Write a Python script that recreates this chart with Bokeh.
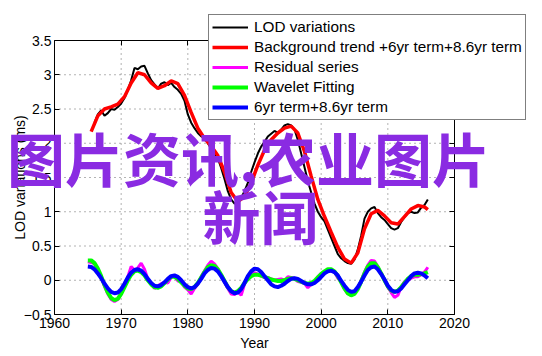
import math
from bokeh.plotting import figure
from bokeh.models import (Range1d, LinearAxis, FixedTicker, Legend, LegendItem,
                          Label, CustomJSTickFormatter)
from bokeh.embed import file_html
from bokeh.resources import INLINE

# ---------------- data ----------------
lod_years = [1966.0 + 0.5 * i for i in range(101)]
lod_values = [
    2.30, 2.42, 2.48, 2.40, 2.44, 2.50, 2.49, 2.53, 2.58, 2.66,
    2.78, 2.92, 3.10, 3.08, 3.12, 3.13, 3.02, 2.92, 2.86, 2.80,
    2.87, 2.89, 2.85, 2.88, 2.82, 2.78, 2.72, 2.62, 2.42, 2.30,
    2.22, 2.15, 2.10, 2.08, 2.00, 1.92, 1.85, 1.78, 1.64, 1.48,
    1.30, 1.18, 1.12, 1.13, 1.20, 1.30, 1.42, 1.58, 1.72, 1.85,
    1.95, 2.02, 2.10, 2.14, 2.18, 2.15, 2.20, 2.26, 2.28, 2.26,
    2.20, 2.05, 1.85, 1.65, 1.45, 1.28, 1.12, 1.00, 0.92, 0.86,
    0.74, 0.62, 0.50, 0.38, 0.32, 0.28, 0.25, 0.24, 0.30, 0.45,
    0.65, 0.90, 1.00, 1.05, 1.07, 0.98, 0.92, 0.88, 0.82, 0.76,
    0.74, 0.76, 0.85, 0.92, 0.98, 1.00, 0.98, 0.99, 1.06, 1.10,
    1.18,
]

trend_years = [1965.5 + i for i in range(51)] + [2016.0]
trend_values = [
    2.17, 2.40, 2.50, 2.53, 2.57, 2.68, 2.88, 3.03, 3.00, 2.88,
    2.80, 2.84, 2.91, 2.87, 2.70, 2.45, 2.22, 2.07, 1.96, 1.82,
    1.58, 1.28, 1.15, 1.22, 1.42, 1.68, 1.90, 2.05, 2.15, 2.22,
    2.25, 2.15, 1.88, 1.52, 1.18, 0.93, 0.70, 0.48, 0.31, 0.25,
    0.40, 0.75, 0.97, 1.02, 0.94, 0.84, 0.82, 0.93, 1.04, 1.09,
    1.07, 1.03,
]

osc_years = [1965.0 + 0.5 * i for i in range(103)]
residual_values = [
    0.27, 0.26, 0.24, 0.15, 0.05, -0.09, -0.20, -0.28, -0.31, -0.28,
    -0.20, -0.08, 0.05, 0.20, 0.15, 0.18, 0.25, 0.16, 0.02, -0.05,
    -0.12, -0.08, -0.05, -0.03, -0.04, 0.04, 0.06, -0.01, -0.02, -0.10,
    -0.14, -0.20, -0.12, -0.06, 0.05, 0.14, 0.22, 0.28, 0.24, 0.17,
    0.06, -0.03, -0.12, -0.20, -0.21, -0.17, -0.22, -0.06, 0.03, 0.08,
    0.11, 0.09, 0.06, 0.04, 0.04, 0.02, 0.00, 0.01, 0.02, 0.00,
    0.05, 0.04, 0.03, -0.02, -0.03, -0.05, -0.11, -0.06, -0.03, 0.05,
    0.10, 0.12, 0.14, 0.13, 0.12, 0.03, -0.02, -0.13, -0.20, -0.19,
    -0.18, -0.12, 0.00, 0.12, 0.22, 0.29, 0.28, 0.20, 0.10, 0.00,
    -0.10, -0.18, -0.25, -0.22, -0.10, -0.02, 0.00, 0.03, 0.05, 0.05,
    0.08, 0.12, 0.19,
]
wavelet_values = [
    0.29, 0.29, 0.25, 0.17, 0.06, -0.07, -0.18, -0.26, -0.29, -0.27,
    -0.20, -0.10, 0.00, 0.08, 0.13, 0.14, 0.12, 0.07, 0.00, -0.06,
    -0.10, -0.11, -0.09, -0.04, 0.01, 0.05, 0.05, 0.02, -0.03, -0.08,
    -0.12, -0.13, -0.10, -0.04, 0.04, 0.12, 0.19, 0.22, 0.21, 0.16,
    0.08, -0.01, -0.10, -0.16, -0.18, -0.16, -0.11, -0.04, 0.02, 0.06,
    0.08, 0.08, 0.07, 0.05, 0.03, 0.01, 0.00, -0.01, -0.01, 0.00,
    0.02, 0.03, 0.02, 0.00, -0.02, -0.04, -0.05, -0.04, -0.01, 0.04,
    0.09, 0.13, 0.16, 0.16, 0.13, 0.06, -0.03, -0.12, -0.19, -0.22,
    -0.20, -0.13, -0.02, 0.10, 0.20, 0.25, 0.25, 0.19, 0.10, 0.00,
    -0.09, -0.15, -0.17, -0.15, -0.10, -0.04, 0.02, 0.06, 0.08, 0.08,
    0.09, 0.10, 0.12,
]
terms_values = [
    0.20, 0.195, 0.16, 0.10, 0.03, -0.05, -0.12, -0.17, -0.19, -0.18,
    -0.13, -0.05, 0.04, 0.11, 0.15, 0.16, 0.14, 0.09, 0.02, -0.04,
    -0.08, -0.09, -0.07, -0.03, 0.02, 0.06, 0.07, 0.05, 0.00, -0.06,
    -0.10, -0.12, -0.10, -0.05, 0.02, 0.10, 0.15, 0.18, 0.17, 0.13,
    0.06, -0.02, -0.10, -0.16, -0.19, -0.18, -0.13, -0.04, 0.06, 0.13,
    0.17, 0.16, 0.12, 0.06, 0.00, -0.06, -0.09, -0.10, -0.08, -0.05,
    -0.01, 0.02, 0.03, 0.02, -0.01, -0.04, -0.06, -0.06, -0.04, 0.00,
    0.05, 0.10, 0.13, 0.14, 0.12, 0.07, -0.01, -0.08, -0.14, -0.17,
    -0.16, -0.10, -0.02, 0.07, 0.15, 0.19, 0.20, 0.16, 0.09, 0.01,
    -0.08, -0.14, -0.17, -0.16, -0.12, -0.06, 0.00, 0.06, 0.10, 0.11,
    0.10, 0.07, 0.03,
]

x_ticks = [1960, 1970, 1980, 1990, 2000, 2010, 2020]
y_ticks = [-0.5, 0, 0.5, 1, 1.5, 2, 2.5, 3, 3.5]
y_tick_labels = {-0.5: "\u22120.5", 0: "0", 0.5: "0.5", 1: "1", 1.5: "1.5",
                 2: "2", 2.5: "2.5", 3: "3", 3.5: "3.5"}

legend_labels = ["LOD variations", "Background trend +6yr term+8.6yr term",
                 "Residual series", "Wavelet Fitting", "6yr term+8.6yr term"]
x_title = "Year"
y_title = "LOD variations (ms)"
watermark_1 = "图片资讯,农业图片"
watermark_2 = "新闻"

FONT = "Liberation Sans"

# ---------------- figure ----------------
# The frame fills the whole canvas; the axes box (1960-2020, -0.5-3.5) sits
# inside it through fixed-location axes, so legend/labels are never clipped.
W, H = 540, 354
BOX_L, BOX_R, BOX_T, BOX_B = 54, 454, 40, 314
X0, X1 = x_ticks[0], x_ticks[-1]
Y0, Y1 = y_ticks[0], y_ticks[-1]
sx = (BOX_R - BOX_L) / (X1 - X0)
sy = (BOX_B - BOX_T) / (Y1 - Y0)
x_range = Range1d(X0 - BOX_L / sx, X1 + (W - BOX_R) / sx)
y_range = Range1d(Y0 - (H - BOX_B) / sy, Y1 + BOX_T / sy)

p = figure(width=W, height=H, output_backend="svg", toolbar_location=None,
           x_range=x_range, y_range=y_range, min_border=0,
           x_axis_location=None, y_axis_location=None)
p.background_fill_color = "white"
p.border_fill_color = "white"
p.outline_line_color = None
p.xgrid.visible = False
p.ygrid.visible = False

blank = CustomJSTickFormatter(code="return ''")


def style_axis(ax, ticks, bounds, loc, labels=True):
    ax.ticker = FixedTicker(ticks=ticks)
    ax.bounds = bounds
    ax.fixed_location = loc
    ax.major_tick_in = 5
    ax.major_tick_out = 0
    ax.minor_tick_line_color = None
    ax.axis_line_color = "black"
    ax.axis_line_width = 1
    ax.major_tick_line_color = "black"
    ax.major_label_text_font = FONT
    ax.major_label_text_font_size = "14px"
    ax.major_label_text_color = "black"
    ax.major_label_standoff = 3
    if not labels:
        ax.formatter = blank


# dotted grid inside the box
p.segment(x0=x_ticks[1:-1], y0=[Y0] * (len(x_ticks) - 2), x1=x_ticks[1:-1],
          y1=[Y1] * (len(x_ticks) - 2), line_color="#666666", line_dash="1 4",
          line_width=1)
p.segment(x0=[X0] * (len(y_ticks) - 2), y0=y_ticks[1:-1], x1=[X1] * (len(y_ticks) - 2),
          y1=y_ticks[1:-1], line_color="#666666", line_dash="1 4", line_width=1)

xb = LinearAxis()
style_axis(xb, x_ticks, (X0, X1), Y0)
p.add_layout(xb, "below")
yl = LinearAxis()
style_axis(yl, y_ticks, (Y0, Y1), X0)
yl.major_label_overrides = y_tick_labels
p.add_layout(yl, "left")
xt = LinearAxis()
style_axis(xt, x_ticks, (X0, X1), Y1, labels=False)
p.add_layout(xt, "above")
yr = LinearAxis()
style_axis(yr, y_ticks, (Y0, Y1), X1, labels=False)
p.add_layout(yr, "right")

r_lod = p.line(lod_years, lod_values, line_color="black", line_width=2)
r_trend = p.line(trend_years, trend_values, line_color="#ff0000", line_width=3.5)
r_res = p.line(osc_years, residual_values, line_color="#ff00ff", line_width=3)
r_wav = p.line(osc_years, wavelet_values, line_color="#00ff00", line_width=4)
r_terms = p.line(osc_years, terms_values, line_color="#0000ff", line_width=4)

legend = Legend(items=[LegendItem(label=l, renderers=[r]) for l, r in
                       zip(legend_labels, [r_lod, r_trend, r_res, r_wav, r_terms])],
                location=(208, H - 120))
legend.label_text_font = FONT
legend.label_text_font_size = "15.3px"
legend.label_text_color = "black"
legend.label_height = 18
legend.glyph_height = 18
legend.glyph_width = 36
legend.label_standoff = 6
legend.spacing = 2
legend.padding = 3
legend.margin = 0
legend.border_line_color = "black"
legend.border_line_width = 1
legend.background_fill_color = "white"
legend.background_fill_alpha = 1
p.add_layout(legend, "center")

p.add_layout(Label(x=(X0 + X1) / 2, y=Y0 - 28 / sy, text=x_title, text_font=FONT,
                   text_font_size="14px", text_color="black",
                   text_align="center", text_baseline="middle"))
p.add_layout(Label(x=X0 - 35 / sx, y=(Y0 + Y1) / 2, text=y_title, text_font=FONT,
                   text_font_size="14px", text_color="black", angle=math.pi / 2,
                   text_align="center", text_baseline="middle"))

p.add_layout(Label(x=1989.1, y=1.80, text=watermark_1, text_font="Noto Sans CJK SC",
                   text_font_style="bold", text_font_size="58px", text_color="#8a2be2",
                   text_align="center", text_baseline="middle"))
p.add_layout(Label(x=1990.9, y=0.95, text=watermark_2, text_font="Noto Sans CJK SC",
                   text_font_style="bold", text_font_size="58px", text_color="#8a2be2",
                   text_align="center", text_baseline="middle"))

open("out.html", "w").write(file_html(p, INLINE))
